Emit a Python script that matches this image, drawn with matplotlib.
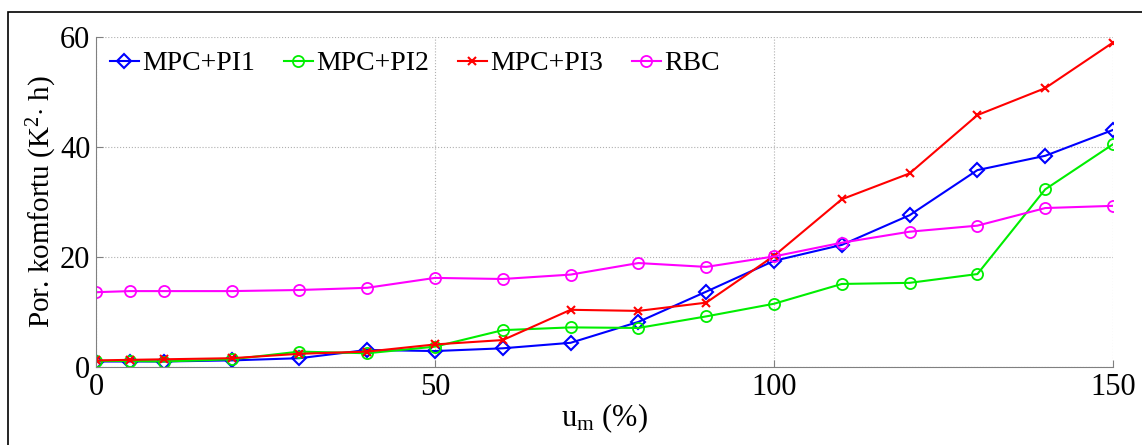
import matplotlib
matplotlib.use("Agg")
import matplotlib.pyplot as plt
from matplotlib.patches import Rectangle

u_m = [0, 5, 10, 20, 30, 40, 50, 60, 70, 80, 90, 100, 110, 120, 130, 140, 150]
mpc_pi1 = [1.0, 1.0, 1.0, 1.2, 1.6, 3.1, 2.9, 3.4, 4.4, 8.2, 13.7, 19.3, 22.2, 27.6, 35.8, 38.4, 43.1]
mpc_pi2 = [1.1, 1.1, 1.0, 1.4, 2.8, 2.5, 3.7, 6.7, 7.2, 7.1, 9.2, 11.5, 15.1, 15.3, 16.9, 32.3, 40.5]
mpc_pi3 = [1.2, 1.3, 1.4, 1.6, 2.4, 2.8, 4.1, 4.9, 10.4, 10.2, 11.7, 20.2, 30.5, 35.2, 45.8, 50.7, 59.0]
rbc = [13.6, 13.8, 13.8, 13.8, 14.0, 14.4, 16.2, 16.0, 16.8, 18.9, 18.2, 20.1, 22.6, 24.6, 25.7, 28.9, 29.3]

series_names = ["MPC+PI1", "MPC+PI2", "MPC+PI3", "RBC"]
x_ticks = [0, 50, 100, 150]
y_ticks = [0, 20, 40, 60]

plt.rcParams['font.family'] = ['Liberation Serif', 'DejaVu Serif']
plt.rcParams['mathtext.fontset'] = 'custom'
plt.rcParams['mathtext.rm'] = 'Liberation Serif'
plt.rcParams['mathtext.it'] = 'Liberation Serif'

W, H = 1142, 445
fig = plt.figure(figsize=(W / 100, H / 100), dpi=100)
fig.patches.append(Rectangle((8 / W, -0.1), 1.2, (H - 12) / H + 0.1, transform=fig.transFigure,
                             fill=False, edgecolor='black', linewidth=1.2))

ax = fig.add_axes([96 / W, 1 - 367 / H, (1113 - 96) / W, (367 - 37) / H])

lw = 1.5
ax.plot(u_m, mpc_pi1, color='#0000ff', marker='D', mfc='none', ms=7, mew=1.5, lw=lw, label=series_names[0])
ax.plot(u_m, mpc_pi2, color='#00ee00', marker='o', mfc='none', ms=8, mew=1.3, lw=lw, label=series_names[1])
ax.plot(u_m, mpc_pi3, color='#ff0000', marker='x', mfc='none', ms=6, mew=1.5, lw=lw, label=series_names[2])
ax.plot(u_m, rbc, color='#ff00ff', marker='o', mfc='none', ms=8, mew=1.3, lw=lw, label=series_names[3])

ax.set_xlim(0, 150)
ax.set_ylim(0, 60)
ax.set_xticks(x_ticks)
ax.set_yticks(y_ticks)
ax.grid(True, linestyle=':', color='#b0b0b0', linewidth=0.8)
ax.set_axisbelow(True)
for s in ['top', 'right']:
    ax.spines[s].set_visible(False)
for s in ['left', 'bottom']:
    ax.spines[s].set_color('#808080')
ax.tick_params(direction='in', length=5, color='#808080', labelsize=22, pad=4)
ax.set_xlabel('u$_{\\mathrm{m}}$ (%)', fontsize=22, labelpad=0)
ax.set_ylabel('Por. komfortu (K$^{2}$$\\cdot$ h)', fontsize=21, labelpad=1)

leg = ax.legend(loc='upper left', ncol=4, frameon=False, fontsize=20, handlelength=1.05,
                handletextpad=0.1, columnspacing=1.05, borderaxespad=0.1, bbox_to_anchor=(0.0, 1.0))

fig.savefig('out.png', dpi=100)
